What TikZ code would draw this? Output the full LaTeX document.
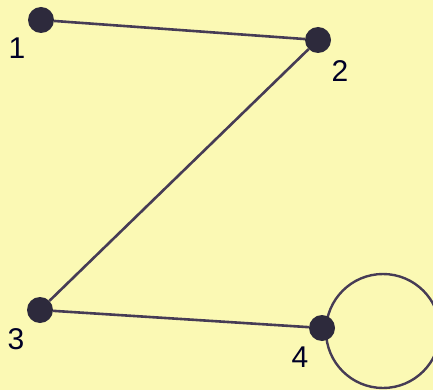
\documentclass[tikz,border=0pt]{standalone}
\usepackage{fontspec}
\setmainfont{Liberation Sans}
\definecolor{bgyellow}{RGB}{251,249,180}
\definecolor{vert}{RGB}{45,42,60}
\definecolor{edgec}{RGB}{70,60,85}
\begin{document}
\begin{tikzpicture}[x=1pt,y=-1pt,
  vtx/.style={circle,fill=vert,minimum size=26pt,inner sep=0pt},
  lbl/.style={font=\fontsize{30}{32}\selectfont,text=black!85!blue,inner sep=0pt},
  edge/.style={draw=edgec,line width=2.6pt}]
\fill[bgyellow] (0,0) rectangle (433,390);
\useasboundingbox (0,0) rectangle (433,390);
\draw[edgec,line width=2.4pt] (383,331) circle (57);
\node[vtx] (v1) at (41,20) {};
\node[vtx] (v2) at (318,40) {};
\node[vtx] (v3) at (40,310) {};
\node[vtx] (v4) at (322,328) {};
\draw[edge] (v1) -- (v2);
\draw[edge] (v2) -- (v3);
\draw[edge] (v3) -- (v4);
\node[lbl] (l1) at (17,48) {1};
\node[lbl] (l2) at (340,71) {2};
\node[lbl] (l3) at (16,339) {3};
\node[lbl] (l4) at (300,357) {4};
\end{tikzpicture}
\end{document}
